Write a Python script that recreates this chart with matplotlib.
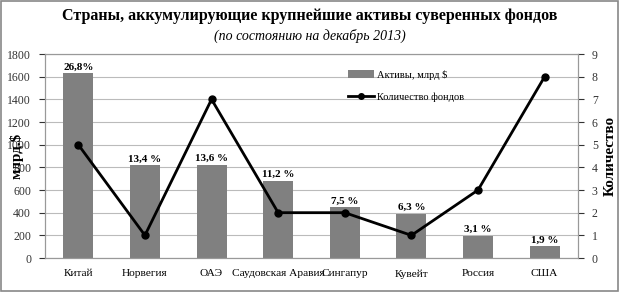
import matplotlib.pyplot as plt
from matplotlib.patches import Rectangle

# data
countries = ["Китай", "Норвегия", "ОАЭ", "Саудовская Аравия", "Сингапур",
             "Кувейт", "Россия", "США"]
assets = [1630, 820, 825, 680, 450, 390, 195, 105]
funds = [5, 1, 7, 2, 2, 1, 3, 8]
shares = ["26,8%", "13,4 %", "13,6 %", "11,2 %", "7,5 %", "6,3 %", "3,1 %", "1,9 %"]

plt.rcParams['font.family'] = ['Liberation Serif', 'DejaVu Serif']

fig = plt.figure(figsize=(6.19, 2.92), dpi=100)
fig.patches.append(Rectangle((0.002, 0.003), 0.996, 0.994, transform=fig.transFigure,
                             fill=False, edgecolor='#888888', lw=1.2))

ax = fig.add_axes([0.0727, 0.1164, 0.861, 0.6986])
x = range(len(countries))
bars = ax.bar(x, assets, width=0.45, color='#808080', label='Активы, млрд $', zorder=2)
ax.set_ylim(0, 1800)
ax.set_yticks(range(0, 1801, 200))
ax.set_xlim(-0.5, len(countries) - 0.5)
ax.set_xticks(list(x))
ax.set_xticklabels(countries, fontsize=8.2)
ax.tick_params(axis='x', length=0, pad=8)
ax.tick_params(axis='y', length=4, labelsize=8.5, colors='#333333', pad=6)
ax.grid(axis='y', color='#bbbbbb', lw=0.8, zorder=0)
for s in ax.spines.values():
    s.set_color('#999999')
ax.set_ylabel('млрд.$', fontsize=11, fontweight='bold', labelpad=-12)

for b, t in zip(bars, shares):
    ax.text(b.get_x() + b.get_width() / 2, b.get_height() + 15, t,
            ha='center', va='bottom', fontsize=8, fontweight='bold')

ax2 = ax.twinx()
ax2.plot(x, funds, color='black', lw=2, marker='o', markersize=5,
         label='Количество фондов', zorder=3)
ax2.set_ylim(0, 9)
ax2.set_yticks(range(10))
ax2.tick_params(axis='y', length=4, labelsize=8.5, colors='#333333', pad=6)
for s in ax2.spines.values():
    s.set_color('#999999')
ax2.set_ylabel('Количество', fontsize=11, fontweight='bold', labelpad=4)

h1, l1 = ax.get_legend_handles_labels()
h2, l2 = ax2.get_legend_handles_labels()
ax2.legend(h1 + h2, l1 + l2, loc='upper left', bbox_to_anchor=(0.55, 0.97),
           frameon=False, fontsize=7.5, handlelength=2.5, labelspacing=1.2,
           handletextpad=0.3, markerscale=0.8)

fig.text(0.5, 0.93, 'Страны, аккумулирующие крупнейшие активы суверенных фондов',
         ha='center', fontsize=11.5, fontweight='bold')
fig.text(0.5, 0.862, '(по состоянию на декабрь 2013)',
         ha='center', fontsize=10, style='italic')

fig.savefig('out.png', dpi=100)
